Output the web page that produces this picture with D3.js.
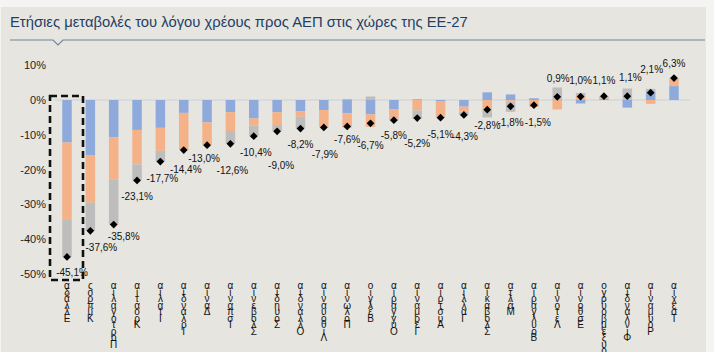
<!DOCTYPE html>
<html>
<head>
<meta charset="utf-8">
<script src="https://cdn.jsdelivr.net/npm/d3@7"></script>
<style>
  html, body { margin: 0; padding: 0; background: #f4f4f2; }
  svg { display: block; font-family: "Liberation Sans", Arial, sans-serif; }
</style>
</head>
<body>
<svg width="714" height="352"></svg>
<script>
  // χώρες ΕΕ-27, ταξινομημένες από τη μεγαλύτερη μείωση
  const countries = ["Ελλάδα","Κύπρος","Πορτογαλία","Κροατία","Ιταλία","Ιρλανδία","Δανία","Ισπανία",
    "Σλοβενία","Σουηδία","Ολλανδία","Λιθουανία","Πολωνία","Βέλγιο","Ουγγαρία","Γερμανία","Αυστρία",
    "Γαλλία","Σλοβακία","Μάλτα","Βουλγαρία","Λετονία","Εσθονία","Λουξεμβούργο","Φινλανδία","Ρουμανία","Τσεχία"];

  // συνιστώσες μεταβολής (ποσοστιαίες μονάδες)
  const blueVals   = [-12.2,-15.8,-10.7,-8.6,-8.0,-3.7,-6.4,-3.5,-5.3,-3.5,-3.2,-2.9,-3.8,-4.1,-2.6,0.2,-0.3,-1.9,2.2,1.6,0.5,0.2,-1.0,0.3,-2.2,2.5,4.0];
  const orangeVals = [-22.3,-13.7,-12.1,-9.9,-6.6,-10.5,-6.6,-5.4,-2.1,-3.7,-1.6,-5.0,-4.1,-3.6,-2.7,-3.0,-4.5,-1.5,-2.9,-0.5,-2.0,-2.7,1.2,0.2,0.3,-1.1,2.2];
  const greyVals   = [-10.6,-8.1,-13.0,-4.6,-3.1,-0.2,0.0,-3.7,-3.0,-1.8,-3.4,0.0,0.3,1.0,-0.5,-2.4,-0.3,-0.9,-2.1,-2.9,0.0,3.4,0.8,0.6,3.0,0.7,0.1];
  // συνολική μεταβολή (ρόμβος)
  const totals     = [-45.1,-37.6,-35.8,-23.1,-17.7,-14.4,-13.0,-12.6,-10.4,-9.0,-8.2,-7.9,-7.6,-6.7,-5.8,-5.2,-5.1,-4.3,-2.8,-1.8,-1.5,0.9,1.0,1.1,1.1,2.1,6.3];

  const yTicks = [10, 0, -10, -20, -30, -40, -50];

  // μετατόπιση ετικετών τιμών (px) για να μην επικαλύπτονται
  const labelDx = [5,11,10,0,2,2,-3,2,2,4,0,1,0,0,0,0,0,1,0,0,4,1,0,0,3,1,0];
  const labelDy = [16,18,13,17,18,20,14,28,17,35,17,28,14,23,16,26,18,22,17,17,18,-18,-15,-15,-18,-22,-14];

  const svg = d3.select("svg");

  // φόντο
  svg.append("rect").attr("x", 1).attr("y", 7).attr("width", 705).attr("height", 345).attr("fill", "#e6e5e0");

  // τίτλος
  svg.append("text")
    .attr("x", 10).attr("y", 27)
    .attr("font-size", 14.8).attr("fill", "#1f3f66")
    .text("Ετήσιες μεταβολές του λόγου χρέους προς ΑΕΠ στις χώρες της ΕΕ-27");

  svg.append("path")
    .attr("d", "M10,40H53L58,45L63,40H705")
    .attr("fill", "none").attr("stroke", "#6f859c").attr("stroke-width", 1.2);

  const x = d3.scalePoint().domain(countries).range([67, 674]);
  const y = d3.scaleLinear().domain([-50, 10]).range([274, 65.2]);
  const barW = 9.5;

  const loc = d3.formatLocale({ decimal: ",", thousands: ".", grouping: [3], currency: ["", "€"], minus: "-" });
  const fmt1 = loc.format(".1f");

  // άξονας y
  const yAxis = d3.axisLeft(y).tickValues(yTicks).tickSize(0).tickPadding(0)
    .tickFormat(d => loc.format("d")(d) + "%");
  const gy = svg.append("g").attr("transform", "translate(46,0)").call(yAxis);
  gy.select(".domain").remove();
  gy.selectAll("text").attr("font-size", 11).attr("fill", "#222").attr("font-family", "Liberation Sans, Arial, sans-serif");

  // γραμμή μηδέν
  svg.append("line")
    .attr("x1", 55).attr("x2", 690)
    .attr("y1", y(0)).attr("y2", y(0))
    .attr("stroke", "#c9cfdc").attr("stroke-width", 1.2);

  // στοιβαγμένες στήλες
  const table = countries.map((c, i) => ({ country: c, blue: blueVals[i], orange: orangeVals[i], grey: greyVals[i] }));
  const keys = ["blue", "orange", "grey"];
  const colors = { blue: "#8eaadc", orange: "#f5b187", grey: "#bdbdbd" };
  const series = d3.stack().keys(keys).offset(d3.stackOffsetDiverging)(table);

  svg.append("g").selectAll("g")
    .data(series)
    .enter().append("g")
    .attr("fill", d => colors[d.key])
    .selectAll("rect")
    .data(d => d)
    .enter().append("rect")
    .attr("x", d => x(d.data.country) - barW / 2)
    .attr("width", barW)
    .attr("y", d => y(Math.max(d[0], d[1])))
    .attr("height", d => Math.abs(y(d[0]) - y(d[1])));

  // ρόμβοι συνόλου
  svg.append("g").selectAll("path")
    .data(totals)
    .enter().append("path")
    .attr("d", d3.symbol().type(d3.symbolSquare).size(30))
    .attr("transform", (d, i) => `translate(${x(countries[i])},${y(d)}) rotate(45)`)
    .attr("fill", "#000");

  // ετικέτες τιμών
  svg.append("g").selectAll("text")
    .data(totals)
    .enter().append("text")
    .attr("x", (d, i) => x(countries[i]) + labelDx[i])
    .attr("y", (d, i) => y(d) + labelDy[i])
    .attr("text-anchor", "middle")
    .attr("dominant-baseline", "middle")
    .attr("font-size", 10)
    .attr("fill", "#111")
    .text(d => fmt1(d) + "%");

  // πλαίσιο Ελλάδας
  svg.append("rect")
    .attr("x", x("Ελλάδα") - 17).attr("y", y(0) - 4)
    .attr("width", 33).attr("height", y(-50) - y(0) + 10)
    .attr("fill", "none").attr("stroke", "#111")
    .attr("stroke-width", 2.6).attr("stroke-dasharray", "7,4");

  // ετικέτες x: κάθετα στοιβαγμένοι χαρακτήρες (ο πρώτος κάτω)
  const xl = svg.append("g").selectAll("text")
    .data(countries)
    .enter().append("text")
    .attr("text-anchor", "middle")
    .attr("font-size", 10)
    .attr("fill", "#111");

  xl.each(function(c) {
    const chars = Array.from(c).reverse();
    d3.select(this).selectAll("tspan")
      .data(chars)
      .enter().append("tspan")
      .attr("x", x(c))
      .attr("y", (ch, j) => 289 + j * 6.5)
      .text(ch => ch);
  });
</script>
</body>
</html>
